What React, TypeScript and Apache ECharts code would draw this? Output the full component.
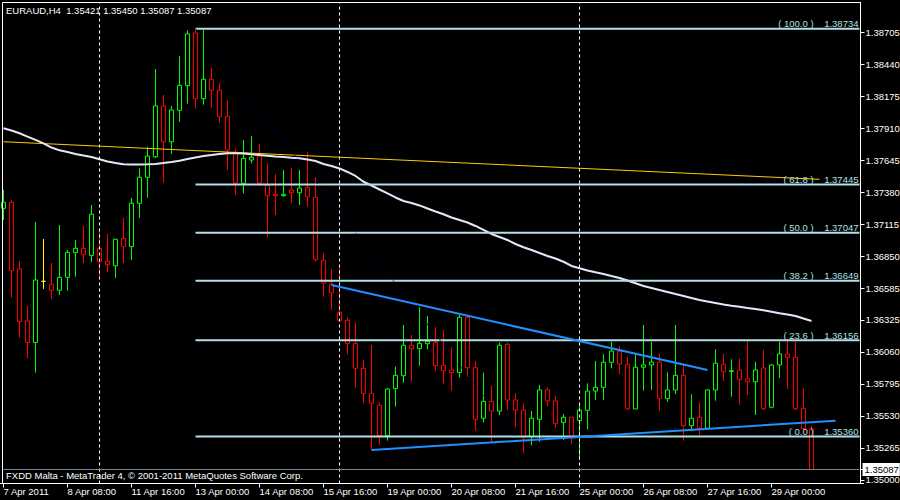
import React, { useEffect, useRef } from 'react';
import * as echarts from 'echarts';

const titleText = 'EURAUD,H4  1.35421 1.35450 1.35087 1.35087';
const footerText = 'FXDD Malta - MetaTrader 4, © 2001-2011 MetaQuotes Software Corp.';

const timeLabels = [
  '7 Apr 2011', '8 Apr 08:00', '11 Apr 16:00', '13 Apr 00:00', '14 Apr 08:00',
  '15 Apr 16:00', '19 Apr 00:00', '20 Apr 08:00', '21 Apr 16:00', '25 Apr 00:00',
  '26 Apr 08:00', '27 Apr 16:00', '29 Apr 00:00',
];
const slotCount = 108;
const labelEvery = 8;

const opens = [
  1.37248, 1.37298, 1.36746, 1.36316, 1.36138, 1.36644, 1.36619, 1.36570, 1.36677, 1.36881,
  1.36917, 1.36859, 1.36917, 1.36810, 1.36773, 1.37000, 1.36931, 1.37290, 1.37505, 1.37675,
  1.38095, 1.37799, 1.38059, 1.38263, 1.38699, 1.38155, 1.38316, 1.38225, 1.38010, 1.37714,
  1.37455, 1.37648, 1.37681, 1.37441, 1.37364, 1.37353, 1.37400, 1.37377, 1.37422, 1.37339,
  1.36818, 1.36619, 1.36388, 1.36322, 1.36131, 1.35924, 1.35717, 1.35618, 1.35367, 1.35756,
  1.35863, 1.36115, 1.36087, 1.36128, 1.36139, 1.35949, 1.35910, 1.35890, 1.36346, 1.35929,
  1.35511, 1.35651, 1.35571, 1.36123, 1.35662, 1.35579, 1.35358, 1.35502, 1.35745, 1.35654,
  1.35477, 1.35519, 1.35491, 1.35577, 1.35736, 1.35767, 1.35974, 1.36067, 1.35957, 1.35588,
  1.35933, 1.35952, 1.35976, 1.35673, 1.35745, 1.35866, 1.35449, 1.35519, 1.35428, 1.35745,
  1.35957, 1.35898, 1.35910, 1.35836, 1.35813, 1.35927, 1.35602, 1.35952, 1.36043, 1.36015,
  1.35590, 1.35421,
];
const highs = [
  1.37400, 1.37317, 1.36812, 1.36440, 1.37135, 1.36994, 1.36796, 1.37110, 1.36903, 1.36986,
  1.37102, 1.37276, 1.37061, 1.37036, 1.36995, 1.37168, 1.37336, 1.37579, 1.37758, 1.38401,
  1.38186, 1.38095, 1.38509, 1.38720, 1.38734, 1.38724, 1.38409, 1.38288, 1.38145, 1.37739,
  1.37814, 1.37847, 1.37780, 1.37621, 1.37532, 1.37565, 1.37579, 1.37565, 1.37714, 1.37505,
  1.36876, 1.36746, 1.36752, 1.36346, 1.36305, 1.35993, 1.36117, 1.35643, 1.35761, 1.35938,
  1.36283, 1.36200, 1.36429, 1.36357, 1.36264, 1.36241, 1.36098, 1.36365, 1.36365, 1.35987,
  1.35888, 1.35780, 1.36136, 1.36136, 1.35717, 1.35635, 1.35571, 1.35786, 1.35767, 1.35698,
  1.35546, 1.35519, 1.35635, 1.35800, 1.35985, 1.36040, 1.36144, 1.36109, 1.36020, 1.36034,
  1.36283, 1.36144, 1.36048, 1.35891, 1.36283, 1.35966, 1.35709, 1.35643, 1.35750, 1.36082,
  1.36043, 1.35999, 1.36007, 1.36144, 1.35979, 1.36076, 1.35960, 1.36144, 1.36164, 1.36144,
  1.35759, 1.35450,
];
const lows = [
  1.37152, 1.36509, 1.36178, 1.36007, 1.35888, 1.36581, 1.36498, 1.36531, 1.36566, 1.36682,
  1.36796, 1.36804, 1.36688, 1.36721, 1.36672, 1.36796, 1.36820, 1.37168, 1.37336, 1.37665,
  1.37460, 1.37700, 1.37965, 1.38114, 1.38073, 1.38106, 1.38081, 1.37957, 1.37565, 1.37358,
  1.37372, 1.37621, 1.37433, 1.37013, 1.37193, 1.37344, 1.37295, 1.37276, 1.37262, 1.36806,
  1.36517, 1.36407, 1.36312, 1.36040, 1.35764, 1.35635, 1.35248, 1.35290, 1.35325, 1.35607,
  1.35805, 1.35813, 1.35946, 1.36084, 1.35904, 1.35800, 1.35739, 1.35850, 1.35855, 1.35408,
  1.35477, 1.35317, 1.35538, 1.35579, 1.35436, 1.35221, 1.35287, 1.35317, 1.35607, 1.35428,
  1.35331, 1.35295, 1.35166, 1.35420, 1.35662, 1.35662, 1.35924, 1.35877, 1.35579, 1.35588,
  1.35739, 1.35745, 1.35573, 1.35648, 1.35709, 1.35325, 1.35408, 1.35372, 1.35414, 1.35656,
  1.35819, 1.35689, 1.35621, 1.35703, 1.35538, 1.35579, 1.35593, 1.35842, 1.35753, 1.35579,
  1.35414, 1.35087,
];
const closes = [
  1.37298, 1.36732, 1.36310, 1.36138, 1.36655, 1.36644, 1.36570, 1.36677, 1.36884, 1.36917,
  1.36864, 1.37199, 1.36806, 1.36782, 1.36992, 1.36931, 1.37290, 1.37505, 1.37681, 1.38095,
  1.37799, 1.38062, 1.38266, 1.38691, 1.38155, 1.38316, 1.38225, 1.38006, 1.37731, 1.37458,
  1.37662, 1.37670, 1.37458, 1.37353, 1.37353, 1.37364, 1.37377, 1.37416, 1.37344, 1.36826,
  1.36628, 1.36550, 1.36318, 1.36131, 1.35924, 1.35717, 1.35635, 1.35367, 1.35753, 1.35866,
  1.36115, 1.36087, 1.36131, 1.36148, 1.35946, 1.35904, 1.35888, 1.36346, 1.35929, 1.35502,
  1.35651, 1.35571, 1.36115, 1.35662, 1.35579, 1.35358, 1.35511, 1.35745, 1.35654, 1.35469,
  1.35519, 1.35352, 1.35579, 1.35736, 1.35767, 1.35974, 1.36067, 1.35960, 1.35588, 1.35933,
  1.35952, 1.35976, 1.35673, 1.35745, 1.35866, 1.35449, 1.35511, 1.35428, 1.35745, 1.35966,
  1.35896, 1.35904, 1.35833, 1.35813, 1.35910, 1.35590, 1.35952, 1.36043, 1.36015, 1.35590,
  1.35425, 1.35087,
];
const maValues = [
  1.37910, 1.37892, 1.37869, 1.37842, 1.37814, 1.37785, 1.37751, 1.37728, 1.37714, 1.37698,
  1.37685, 1.37673, 1.37654, 1.37636, 1.37623, 1.37612, 1.37611, 1.37611, 1.37612, 1.37615,
  1.37623, 1.37631, 1.37641, 1.37656, 1.37669, 1.37681, 1.37689, 1.37698, 1.37703, 1.37703,
  1.37702, 1.37695, 1.37689, 1.37684, 1.37677, 1.37673, 1.37666, 1.37662, 1.37652, 1.37640,
  1.37615, 1.37598, 1.37578, 1.37549, 1.37516, 1.37468, 1.37437, 1.37404, 1.37371, 1.37338,
  1.37309, 1.37292, 1.37272, 1.37247, 1.37222, 1.37199, 1.37172, 1.37152, 1.37131, 1.37102,
  1.37069, 1.37036, 1.37011, 1.36986, 1.36953, 1.36926, 1.36903, 1.36878, 1.36854, 1.36833,
  1.36806, 1.36771, 1.36752, 1.36734, 1.36719, 1.36705, 1.36688, 1.36672, 1.36651, 1.36628,
  1.36605, 1.36589, 1.36572, 1.36556, 1.36539, 1.36523, 1.36506, 1.36490, 1.36477, 1.36465,
  1.36452, 1.36441, 1.36434, 1.36423, 1.36415, 1.36404, 1.36392, 1.36380, 1.36369, 1.36357,
  1.36336, 1.36316,
];
const priceTicks = [
  1.35000, 1.35265, 1.35530, 1.35795, 1.36060, 1.36325, 1.36585, 1.36850,
  1.37115, 1.37380, 1.37645, 1.37910, 1.38175, 1.38440, 1.38705,
];
const fibLevels = [100.0, 61.8, 50.0, 38.2, 23.6, 0.0];
const fibPrices = [1.38734, 1.37445, 1.37047, 1.36649, 1.36156, 1.35360];
const fibStartBar = 24;
const fibDiagonal = [[24, 1.38734], [64, 1.35360]];
const upperTrend = [[41, 1.36614], [88, 1.35910]];
const lowerTrend = [[46, 1.35248], [104, 1.35491]];
const yellowLine = [[0, 1.37799], [102, 1.37488]];
const weekStarts = [12, 42, 72];
const bidPrice = 1.35087;
const yMin = 1.34971;
const yMax = 1.389513;

const FONT = '"Liberation Sans", Arial, sans-serif';
const FS = 9.5;

export default function App() {
  const ref = useRef<HTMLDivElement>(null);
  useEffect(() => {
    if (!ref.current) return;
    const chart = echarts.init(ref.current, null, { renderer: 'svg' });
    const categories = Array.from({ length: slotCount }, (_, i) => String(i));
    const lastSlot = slotCount - 1;

    const fibSeries = fibLevels.map((lvl, k) => ({
      type: 'line',
      z: 4,
      silent: true,
      symbol: 'circle',
      symbolSize: 0,
      showSymbol: true,
      lineStyle: { color: '#b0e0e6', width: 2 },
      itemStyle: { color: '#b0e0e6' },
      label: { show: false },
      emphasis: { disabled: true },
      data: [
        [fibStartBar, fibPrices[k]],
        {
          value: [lastSlot, fibPrices[k]],
          label: {
            show: true,
            position: 'top',
            distance: 0,
            align: 'right',
            offset: [-1, 0],
            color: '#b0e0e6',
            fontSize: FS,
            fontFamily: FONT,
            formatter: `( ${lvl.toFixed(1)} )    ${fibPrices[k].toFixed(5)}`,
          },
        },
      ],
    }));

    const simpleLine = (data: any, color: string, width: number, z: number, type: any = 'solid') => ({
      type: 'line',
      z,
      silent: true,
      symbol: 'none',
      lineStyle: { color, width, type },
      emphasis: { disabled: true },
      data,
    });

    const option: any = {
      animation: false,
      backgroundColor: '#000000',
      grid: {
        left: -0.5,
        right: 36.5,
        top: 2.5,
        bottom: 16.5,
        containLabel: false,
        outerBoundsMode: 'none',
      },
      xAxis: {
        type: 'category',
        data: categories,
        boundaryGap: true,
        axisLine: { show: true, lineStyle: { color: '#ffffff' } },
        axisTick: {
          show: true,
          alignWithLabel: true,
          length: 4,
          interval: (i: number) => i % labelEvery === 0 && i / labelEvery < timeLabels.length,
          lineStyle: { color: '#ffffff' },
        },
        axisLabel: {
          interval: (i: number) => i % labelEvery === 0 && i / labelEvery < timeLabels.length,
          formatter: (_v: string, i: number) => timeLabels[i / labelEvery] ?? '',
          align: 'left',
          color: '#ffffff',
          fontSize: FS,
          fontFamily: FONT,
          margin: 3,
        },
        splitLine: { show: false },
      },
      yAxis: {
        type: 'value',
        position: 'right',
        offset: -3,
        min: yMin,
        max: yMax,
        axisLine: { show: true, lineStyle: { color: '#ffffff' } },
        axisTick: {
          show: true,
          length: 4,
          lineStyle: { color: '#ffffff' },
          customValues: [...priceTicks, bidPrice],
        },
        axisLabel: {
          customValues: priceTicks,
          color: '#ffffff',
          fontSize: FS,
          fontFamily: FONT,
          margin: 5,
          formatter: (v: number) => v.toFixed(5),
        },
        splitLine: { show: false },
      },
      series: [
        {
          type: 'line',
          z: 6,
          silent: true,
          symbol: 'none',
          lineStyle: { color: '#778899', width: 1 },
          emphasis: { disabled: true },
          data: [[0, bidPrice], [lastSlot, bidPrice]],
          endLabel: {
            show: true,
            formatter: bidPrice.toFixed(5),
            distance: 3,
            color: '#000000',
            backgroundColor: '#ffffff',
            padding: [2, 1, 1, 2],
            fontSize: FS,
            fontFamily: FONT,
          },
        },
        {
          type: 'candlestick',
          z: 2,
          silent: true,
          barWidth: 4,
          emphasis: { disabled: true },
          itemStyle: {
            color: '#000000',
            color0: '#000000',
            borderColor: '#00ff00',
            borderColor0: '#ff0000',
            borderColorDoji: '#ffff00',
            borderWidth: 1,
          },
          data: opens.map((o, i) => [o, closes[i], lows[i], highs[i]]),
          markLine: {
            silent: true,
            symbol: ['none', 'none'],
            label: { show: false },
            lineStyle: { color: '#ffffff', width: 1, type: [3, 3] },
            emphasis: { disabled: true },
            data: weekStarts.map((b) => ({ xAxis: b })),
          },
        },
        simpleLine(yellowLine, '#ffcc00', 1, 3),
        simpleLine(maValues, '#e6e6fa', 2, 3),
        ...fibSeries,
        simpleLine(fibDiagonal, '#000080', 1, 5, [2, 3]),
        simpleLine(upperTrend, '#1e90ff', 2, 5),
        simpleLine(lowerTrend, '#1e90ff', 2, 5),
      ],
      graphic: [
        {
          type: 'rect',
          silent: true,
          z: 100,
          shape: { x: 2.5, y: 2.5, width: 858, height: 481 },
          style: { fill: 'none', stroke: '#ffffff', lineWidth: 1 },
        },
        {
          type: 'text',
          silent: true,
          z: 100,
          x: 6,
          y: 5,
          style: { text: titleText, fill: '#ffffff', fontSize: FS, fontFamily: FONT, verticalAlign: 'top' },
        },
        {
          type: 'text',
          silent: true,
          z: 100,
          x: 6,
          y: 470,
          style: { text: footerText, fill: '#ffffff', fontSize: FS, fontFamily: FONT, verticalAlign: 'top' },
        },
      ],
    };
    chart.setOption(option);
    return () => chart.dispose();
  }, []);

  return (
    <div
      ref={ref}
      style={{ position: 'fixed', left: 0, top: 0, width: 900, height: 500, background: '#000' }}
    />
  );
}
